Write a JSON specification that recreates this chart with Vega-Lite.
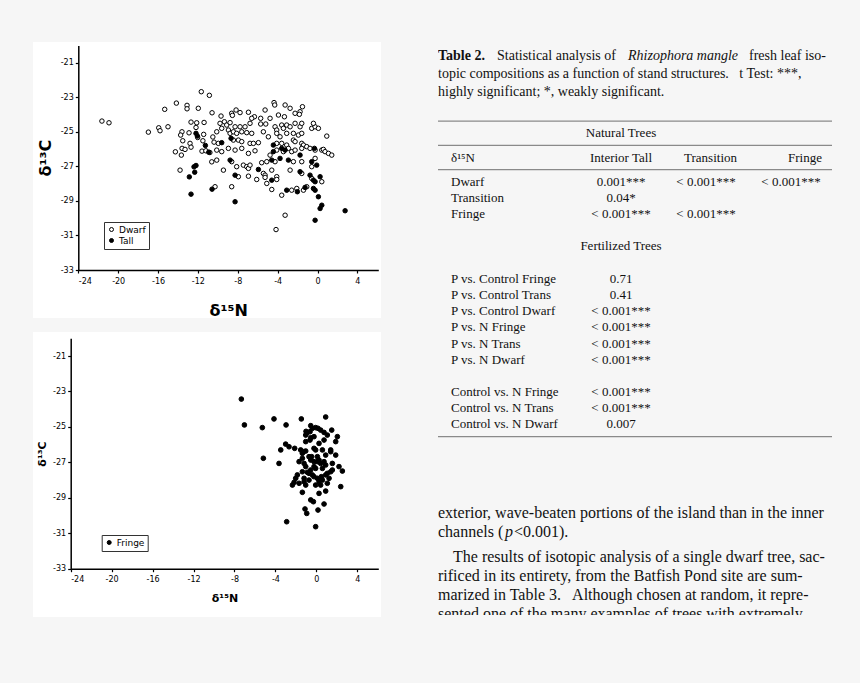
{
  "$schema": "https://vega.github.io/schema/vega-lite/v6.json",
  "background": "#f6f6f6",
  "padding": {"left": 33, "top": 42, "right": 29, "bottom": 66},
  "config": {
    "view": {"stroke": null},
    "axis": {"grid": false, "domainColor": "black", "domainWidth": 1.5, "tickColor": "black", "tickWidth": 1.2, "tickSize": 3, "labelFont": "DejaVu Sans", "labelFontSize": 8, "labelColor": "black", "titleFont": "DejaVu Sans", "titleFontWeight": "bold", "titleColor": "black"},
    "legend": {"orient": "none", "title": null, "padding": 3, "strokeColor": "#333", "fillColor": "white", "labelFont": "DejaVu Sans", "labelFontSize": 9, "labelColor": "black", "symbolType": "circle", "symbolSize": 16, "symbolStrokeColor": "black", "symbolStrokeWidth": 1, "rowPadding": 1, "labelOffset": 3}
  },
  "datasets": {
    "stand": [
      {"d15N": -21.63, "d13C": -24.38, "stand": "Dwarf"}, {"d15N": -20.92, "d13C": -24.48, "stand": "Dwarf"}, {"d15N": -16.97, "d13C": -25.02, "stand": "Dwarf"}, {"d15N": -15.93, "d13C": -24.77, "stand": "Dwarf"}, {"d15N": -15.8, "d13C": -24.94, "stand": "Dwarf"}, {"d15N": -15.0, "d13C": -24.71, "stand": "Dwarf"}, {"d15N": -15.33, "d13C": -23.7, "stand": "Dwarf"}, {"d15N": -14.16, "d13C": -23.34, "stand": "Dwarf"}, {"d15N": -13.09, "d13C": -23.47, "stand": "Dwarf"}, {"d15N": -13.09, "d13C": -23.67, "stand": "Dwarf"}, {"d15N": -11.96, "d13C": -23.64, "stand": "Dwarf"}, {"d15N": -11.66, "d13C": -22.68, "stand": "Dwarf"}, {"d15N": -10.85, "d13C": -22.89, "stand": "Dwarf"}, {"d15N": -10.58, "d13C": -23.9, "stand": "Dwarf"}, {"d15N": -12.69, "d13C": -24.44, "stand": "Dwarf"}, {"d15N": -12.12, "d13C": -24.48, "stand": "Dwarf"}, {"d15N": -11.38, "d13C": -24.46, "stand": "Dwarf"}, {"d15N": -12.19, "d13C": -24.75, "stand": "Dwarf"}, {"d15N": -13.6, "d13C": -25.0, "stand": "Dwarf"}, {"d15N": -13.73, "d13C": -25.19, "stand": "Dwarf"}, {"d15N": -12.89, "d13C": -25.06, "stand": "Dwarf"}, {"d15N": -12.02, "d13C": -25.33, "stand": "Dwarf"}, {"d15N": -11.42, "d13C": -25.15, "stand": "Dwarf"}, {"d15N": -13.52, "d13C": -25.52, "stand": "Dwarf"}, {"d15N": -12.79, "d13C": -25.67, "stand": "Dwarf"}, {"d15N": -12.69, "d13C": -25.89, "stand": "Dwarf"}, {"d15N": -13.59, "d13C": -25.96, "stand": "Dwarf"}, {"d15N": -14.26, "d13C": -26.16, "stand": "Dwarf"}, {"d15N": -13.29, "d13C": -26.02, "stand": "Dwarf"}, {"d15N": -13.66, "d13C": -26.35, "stand": "Dwarf"}, {"d15N": -11.59, "d13C": -26.12, "stand": "Dwarf"}, {"d15N": -10.38, "d13C": -25.6, "stand": "Dwarf"}, {"d15N": -10.61, "d13C": -26.74, "stand": "Dwarf"}, {"d15N": -13.79, "d13C": -27.22, "stand": "Dwarf"}, {"d15N": -11.5, "d13C": -25.52, "stand": "Dwarf"}, {"d15N": -11.2, "d13C": -26.1, "stand": "Dwarf"}, {"d15N": -10.8, "d13C": -26.2, "stand": "Dwarf"}, {"d15N": -10.5, "d13C": -25.3, "stand": "Dwarf"},
      {"d15N": -4.36, "d13C": -23.31, "stand": "Dwarf"}, {"d15N": -4.29, "d13C": -23.45, "stand": "Dwarf"}, {"d15N": -3.25, "d13C": -23.45, "stand": "Dwarf"}, {"d15N": -2.75, "d13C": -23.64, "stand": "Dwarf"}, {"d15N": -2.25, "d13C": -23.93, "stand": "Dwarf"}, {"d15N": -1.51, "d13C": -23.55, "stand": "Dwarf"}, {"d15N": -1.75, "d13C": -23.84, "stand": "Dwarf"}, {"d15N": -1.82, "d13C": -23.99, "stand": "Dwarf"},
      {"d15N": -9.68, "d13C": -24.09, "stand": "Dwarf"}, {"d15N": -8.61, "d13C": -23.93, "stand": "Dwarf"}, {"d15N": -8.54, "d13C": -24.05, "stand": "Dwarf"}, {"d15N": -8.17, "d13C": -23.74, "stand": "Dwarf"}, {"d15N": -7.77, "d13C": -23.89, "stand": "Dwarf"}, {"d15N": -6.93, "d13C": -23.87, "stand": "Dwarf"}, {"d15N": -6.33, "d13C": -24.13, "stand": "Dwarf"}, {"d15N": -5.7, "d13C": -24.22, "stand": "Dwarf"}, {"d15N": -5.26, "d13C": -23.74, "stand": "Dwarf"}, {"d15N": -4.76, "d13C": -24.22, "stand": "Dwarf"}, {"d15N": -3.92, "d13C": -24.03, "stand": "Dwarf"}, {"d15N": -3.32, "d13C": -24.13, "stand": "Dwarf"},
      {"d15N": -9.78, "d13C": -24.51, "stand": "Dwarf"}, {"d15N": -9.34, "d13C": -24.42, "stand": "Dwarf"}, {"d15N": -9.11, "d13C": -24.61, "stand": "Dwarf"}, {"d15N": -8.77, "d13C": -24.47, "stand": "Dwarf"}, {"d15N": -8.27, "d13C": -24.71, "stand": "Dwarf"}, {"d15N": -7.77, "d13C": -24.71, "stand": "Dwarf"}, {"d15N": -7.27, "d13C": -24.71, "stand": "Dwarf"}, {"d15N": -6.77, "d13C": -24.51, "stand": "Dwarf"}, {"d15N": -6.6, "d13C": -24.22, "stand": "Dwarf"}, {"d15N": -5.7, "d13C": -24.55, "stand": "Dwarf"}, {"d15N": -5.19, "d13C": -24.55, "stand": "Dwarf"}, {"d15N": -4.26, "d13C": -24.71, "stand": "Dwarf"}, {"d15N": -4.09, "d13C": -24.9, "stand": "Dwarf"}, {"d15N": -3.59, "d13C": -24.61, "stand": "Dwarf"}, {"d15N": -3.42, "d13C": -24.8, "stand": "Dwarf"}, {"d15N": -3.09, "d13C": -24.61, "stand": "Dwarf"}, {"d15N": -2.75, "d13C": -24.71, "stand": "Dwarf"}, {"d15N": -2.25, "d13C": -24.51, "stand": "Dwarf"}, {"d15N": -1.75, "d13C": -24.71, "stand": "Dwarf"}, {"d15N": -1.58, "d13C": -24.51, "stand": "Dwarf"}, {"d15N": -0.58, "d13C": -24.8, "stand": "Dwarf"}, {"d15N": -0.24, "d13C": -24.71, "stand": "Dwarf"}, {"d15N": 0.09, "d13C": -24.8, "stand": "Dwarf"}, {"d15N": -0.41, "d13C": -24.51, "stand": "Dwarf"},
      {"d15N": -10.11, "d13C": -25.0, "stand": "Dwarf"}, {"d15N": -9.61, "d13C": -24.8, "stand": "Dwarf"}, {"d15N": -8.94, "d13C": -24.9, "stand": "Dwarf"}, {"d15N": -8.77, "d13C": -25.09, "stand": "Dwarf"}, {"d15N": -8.44, "d13C": -25.0, "stand": "Dwarf"}, {"d15N": -8.11, "d13C": -25.09, "stand": "Dwarf"}, {"d15N": -7.6, "d13C": -25.0, "stand": "Dwarf"}, {"d15N": -7.1, "d13C": -25.05, "stand": "Dwarf"}, {"d15N": -6.6, "d13C": -25.09, "stand": "Dwarf"}, {"d15N": -5.43, "d13C": -25.0, "stand": "Dwarf"}, {"d15N": -4.93, "d13C": -25.29, "stand": "Dwarf"}, {"d15N": -4.09, "d13C": -25.09, "stand": "Dwarf"}, {"d15N": -3.76, "d13C": -25.29, "stand": "Dwarf"}, {"d15N": -3.09, "d13C": -25.09, "stand": "Dwarf"}, {"d15N": -2.42, "d13C": -25.09, "stand": "Dwarf"}, {"d15N": -1.92, "d13C": -25.19, "stand": "Dwarf"}, {"d15N": -1.58, "d13C": -25.09, "stand": "Dwarf"}, {"d15N": 0.93, "d13C": -25.25, "stand": "Dwarf"},
      {"d15N": -9.95, "d13C": -25.67, "stand": "Dwarf"}, {"d15N": -8.44, "d13C": -25.48, "stand": "Dwarf"}, {"d15N": -7.94, "d13C": -25.48, "stand": "Dwarf"}, {"d15N": -7.6, "d13C": -25.57, "stand": "Dwarf"}, {"d15N": -6.77, "d13C": -25.67, "stand": "Dwarf"}, {"d15N": -6.43, "d13C": -25.67, "stand": "Dwarf"}, {"d15N": -5.93, "d13C": -25.63, "stand": "Dwarf"}, {"d15N": -4.09, "d13C": -25.67, "stand": "Dwarf"}, {"d15N": -3.59, "d13C": -25.67, "stand": "Dwarf"}, {"d15N": -3.09, "d13C": -25.77, "stand": "Dwarf"}, {"d15N": -2.42, "d13C": -25.48, "stand": "Dwarf"}, {"d15N": -2.25, "d13C": -25.57, "stand": "Dwarf"}, {"d15N": -1.58, "d13C": -25.67, "stand": "Dwarf"}, {"d15N": -1.41, "d13C": -25.77, "stand": "Dwarf"}, {"d15N": -1.08, "d13C": -25.86, "stand": "Dwarf"},
      {"d15N": -10.11, "d13C": -26.06, "stand": "Dwarf"}, {"d15N": -9.61, "d13C": -26.15, "stand": "Dwarf"}, {"d15N": -8.94, "d13C": -25.96, "stand": "Dwarf"}, {"d15N": -8.27, "d13C": -26.06, "stand": "Dwarf"}, {"d15N": -7.6, "d13C": -25.96, "stand": "Dwarf"}, {"d15N": -6.93, "d13C": -26.25, "stand": "Dwarf"}, {"d15N": -6.27, "d13C": -26.1, "stand": "Dwarf"}, {"d15N": -4.76, "d13C": -26.35, "stand": "Dwarf"}, {"d15N": -4.09, "d13C": -26.06, "stand": "Dwarf"}, {"d15N": -3.42, "d13C": -26.15, "stand": "Dwarf"}, {"d15N": -2.92, "d13C": -25.96, "stand": "Dwarf"}, {"d15N": -2.59, "d13C": -26.15, "stand": "Dwarf"}, {"d15N": -2.25, "d13C": -26.06, "stand": "Dwarf"}, {"d15N": -1.58, "d13C": -25.96, "stand": "Dwarf"}, {"d15N": -0.75, "d13C": -25.96, "stand": "Dwarf"}, {"d15N": -0.24, "d13C": -26.06, "stand": "Dwarf"}, {"d15N": 0.43, "d13C": -26.06, "stand": "Dwarf"}, {"d15N": 0.59, "d13C": -26.02, "stand": "Dwarf"}, {"d15N": 0.76, "d13C": -26.15, "stand": "Dwarf"}, {"d15N": 1.1, "d13C": -26.25, "stand": "Dwarf"}, {"d15N": 1.43, "d13C": -26.35, "stand": "Dwarf"},
      {"d15N": -10.11, "d13C": -26.64, "stand": "Dwarf"}, {"d15N": -8.61, "d13C": -26.73, "stand": "Dwarf"}, {"d15N": -8.11, "d13C": -27.02, "stand": "Dwarf"}, {"d15N": -7.44, "d13C": -26.93, "stand": "Dwarf"}, {"d15N": -7.1, "d13C": -27.02, "stand": "Dwarf"}, {"d15N": -6.93, "d13C": -27.12, "stand": "Dwarf"}, {"d15N": -6.77, "d13C": -26.93, "stand": "Dwarf"}, {"d15N": -5.6, "d13C": -26.79, "stand": "Dwarf"}, {"d15N": -5.09, "d13C": -26.73, "stand": "Dwarf"}, {"d15N": -4.26, "d13C": -26.73, "stand": "Dwarf"}, {"d15N": -2.42, "d13C": -26.73, "stand": "Dwarf"}, {"d15N": -1.58, "d13C": -26.73, "stand": "Dwarf"}, {"d15N": -0.24, "d13C": -26.54, "stand": "Dwarf"}, {"d15N": -0.58, "d13C": -27.02, "stand": "Dwarf"},
      {"d15N": -9.44, "d13C": -27.22, "stand": "Dwarf"}, {"d15N": -7.94, "d13C": -27.6, "stand": "Dwarf"}, {"d15N": -6.93, "d13C": -27.57, "stand": "Dwarf"}, {"d15N": -5.43, "d13C": -27.41, "stand": "Dwarf"}, {"d15N": -5.26, "d13C": -27.51, "stand": "Dwarf"}, {"d15N": -4.59, "d13C": -27.22, "stand": "Dwarf"}, {"d15N": -4.09, "d13C": -27.6, "stand": "Dwarf"}, {"d15N": -2.75, "d13C": -27.22, "stand": "Dwarf"}, {"d15N": -1.58, "d13C": -27.41, "stand": "Dwarf"},
      {"d15N": -6.1, "d13C": -27.76, "stand": "Dwarf"}, {"d15N": -5.26, "d13C": -27.64, "stand": "Dwarf"}, {"d15N": -5.09, "d13C": -27.99, "stand": "Dwarf"}, {"d15N": -4.09, "d13C": -27.76, "stand": "Dwarf"}, {"d15N": -0.58, "d13C": -27.7, "stand": "Dwarf"}, {"d15N": 0.43, "d13C": -27.89, "stand": "Dwarf"},
      {"d15N": -10.28, "d13C": -28.18, "stand": "Dwarf"}, {"d15N": -8.61, "d13C": -28.18, "stand": "Dwarf"}, {"d15N": -4.59, "d13C": -28.34, "stand": "Dwarf"}, {"d15N": -3.59, "d13C": -28.67, "stand": "Dwarf"}, {"d15N": -2.59, "d13C": -28.38, "stand": "Dwarf"}, {"d15N": -2.08, "d13C": -28.28, "stand": "Dwarf"}, {"d15N": -1.41, "d13C": -28.38, "stand": "Dwarf"}, {"d15N": -1.08, "d13C": -28.18, "stand": "Dwarf"}, {"d15N": -3.25, "d13C": -29.83, "stand": "Dwarf"}, {"d15N": -4.16, "d13C": -30.66, "stand": "Dwarf"},
      {"d15N": -12.19, "d13C": -25.09, "stand": "Tall"}, {"d15N": -12.05, "d13C": -25.25, "stand": "Tall"}, {"d15N": -11.25, "d13C": -25.79, "stand": "Tall"}, {"d15N": -10.91, "d13C": -26.18, "stand": "Tall"}, {"d15N": -12.39, "d13C": -27.03, "stand": "Tall"}, {"d15N": -12.19, "d13C": -26.95, "stand": "Tall"}, {"d15N": -12.32, "d13C": -27.34, "stand": "Tall"}, {"d15N": -12.86, "d13C": -27.61, "stand": "Tall"}, {"d15N": -12.69, "d13C": -28.61, "stand": "Tall"}, {"d15N": -10.58, "d13C": -28.32, "stand": "Tall"},
      {"d15N": -9.61, "d13C": -25.63, "stand": "Tall"}, {"d15N": -8.67, "d13C": -25.38, "stand": "Tall"}, {"d15N": -4.43, "d13C": -25.77, "stand": "Tall"}, {"d15N": -4.43, "d13C": -26.15, "stand": "Tall"}, {"d15N": -3.59, "d13C": -25.96, "stand": "Tall"}, {"d15N": -3.25, "d13C": -26.06, "stand": "Tall"}, {"d15N": -1.75, "d13C": -26.35, "stand": "Tall"}, {"d15N": -0.31, "d13C": -25.96, "stand": "Tall"}, {"d15N": -8.77, "d13C": -26.64, "stand": "Tall"}, {"d15N": -4.59, "d13C": -26.64, "stand": "Tall"}, {"d15N": -3.76, "d13C": -26.54, "stand": "Tall"}, {"d15N": -2.92, "d13C": -26.64, "stand": "Tall"}, {"d15N": -0.58, "d13C": -26.73, "stand": "Tall"}, {"d15N": -0.08, "d13C": -26.93, "stand": "Tall"}, {"d15N": -8.27, "d13C": -27.51, "stand": "Tall"}, {"d15N": -5.93, "d13C": -27.18, "stand": "Tall"}, {"d15N": -1.75, "d13C": -27.31, "stand": "Tall"}, {"d15N": -0.75, "d13C": -27.51, "stand": "Tall"}, {"d15N": 0.26, "d13C": -27.6, "stand": "Tall"}, {"d15N": -4.59, "d13C": -27.8, "stand": "Tall"}, {"d15N": -0.41, "d13C": -27.8, "stand": "Tall"}, {"d15N": -0.24, "d13C": -27.89, "stand": "Tall"}, {"d15N": -3.09, "d13C": -28.38, "stand": "Tall"}, {"d15N": -2.02, "d13C": -28.47, "stand": "Tall"}, {"d15N": -1.25, "d13C": -28.22, "stand": "Tall"}, {"d15N": -0.41, "d13C": -28.28, "stand": "Tall"}, {"d15N": -0.24, "d13C": -28.38, "stand": "Tall"}, {"d15N": -8.27, "d13C": -29.05, "stand": "Tall"}, {"d15N": 0.09, "d13C": -28.76, "stand": "Tall"}, {"d15N": 0.43, "d13C": -29.25, "stand": "Tall"}, {"d15N": 0.26, "d13C": -29.44, "stand": "Tall"}, {"d15N": 2.77, "d13C": -29.57, "stand": "Tall"}, {"d15N": -0.24, "d13C": -30.12, "stand": "Tall"}
    ],
    "fringe": [
      {"d15N": -4.14, "d13C": -24.55, "stand": "Fringe"}, {"d15N": -1.47, "d13C": -24.55, "stand": "Fringe"}, {"d15N": 0.91, "d13C": -24.44, "stand": "Fringe"}, {"d15N": -5.28, "d13C": -25.04, "stand": "Fringe"}, {"d15N": -2.96, "d13C": -24.89, "stand": "Fringe"}, {"d15N": -0.55, "d13C": -24.93, "stand": "Fringe"}, {"d15N": -0.39, "d13C": -25.08, "stand": "Fringe"}, {"d15N": -0.07, "d13C": -25.04, "stand": "Fringe"}, {"d15N": 0.16, "d13C": -25.08, "stand": "Fringe"}, {"d15N": -0.62, "d13C": -25.27, "stand": "Fringe"}, {"d15N": -0.94, "d13C": -25.36, "stand": "Fringe"}, {"d15N": -1.04, "d13C": -25.46, "stand": "Fringe"}, {"d15N": 0.75, "d13C": -25.31, "stand": "Fringe"}, {"d15N": 1.07, "d13C": -25.46, "stand": "Fringe"}, {"d15N": 1.5, "d13C": -25.18, "stand": "Fringe"}, {"d15N": 2.05, "d13C": -25.55, "stand": "Fringe"}, {"d15N": 1.89, "d13C": -25.83, "stand": "Fringe"}, {"d15N": -0.55, "d13C": -25.61, "stand": "Fringe"}, {"d15N": -0.23, "d13C": -25.55, "stand": "Fringe"}, {"d15N": 0.26, "d13C": -25.93, "stand": "Fringe"}, {"d15N": -1.04, "d13C": -25.83, "stand": "Fringe"}, {"d15N": -3.0, "d13C": -25.97, "stand": "Fringe"}, {"d15N": -2.67, "d13C": -26.12, "stand": "Fringe"}, {"d15N": -3.48, "d13C": -26.3, "stand": "Fringe"}, {"d15N": -2.12, "d13C": -26.21, "stand": "Fringe"}, {"d15N": -5.18, "d13C": -26.77, "stand": "Fringe"}, {"d15N": -3.65, "d13C": -27.06, "stand": "Fringe"}, {"d15N": -1.53, "d13C": -26.3, "stand": "Fringe"}, {"d15N": -1.27, "d13C": -26.4, "stand": "Fringe"}, {"d15N": -1.04, "d13C": -26.36, "stand": "Fringe"}, {"d15N": -0.23, "d13C": -26.21, "stand": "Fringe"}, {"d15N": -0.07, "d13C": -26.3, "stand": "Fringe"}, {"d15N": 0.59, "d13C": -26.3, "stand": "Fringe"}, {"d15N": 0.91, "d13C": -26.59, "stand": "Fringe"}, {"d15N": 1.4, "d13C": -26.4, "stand": "Fringe"}, {"d15N": 1.89, "d13C": -26.59, "stand": "Fringe"}, {"d15N": -1.69, "d13C": -26.96, "stand": "Fringe"}, {"d15N": -1.37, "d13C": -26.77, "stand": "Fringe"}, {"d15N": -1.2, "d13C": -27.06, "stand": "Fringe"}, {"d15N": -1.04, "d13C": -27.24, "stand": "Fringe"}, {"d15N": -0.72, "d13C": -26.68, "stand": "Fringe"}, {"d15N": -0.55, "d13C": -26.87, "stand": "Fringe"}, {"d15N": -0.23, "d13C": -26.96, "stand": "Fringe"}, {"d15N": 0.1, "d13C": -26.68, "stand": "Fringe"}, {"d15N": 0.26, "d13C": -26.87, "stand": "Fringe"}, {"d15N": 0.42, "d13C": -27.06, "stand": "Fringe"}, {"d15N": 0.75, "d13C": -26.96, "stand": "Fringe"}, {"d15N": 0.91, "d13C": -27.15, "stand": "Fringe"}, {"d15N": 0.59, "d13C": -27.34, "stand": "Fringe"}, {"d15N": -0.07, "d13C": -27.34, "stand": "Fringe"}, {"d15N": -0.55, "d13C": -27.43, "stand": "Fringe"}, {"d15N": -0.88, "d13C": -27.56, "stand": "Fringe"}, {"d15N": -1.37, "d13C": -27.53, "stand": "Fringe"}, {"d15N": -1.86, "d13C": -27.71, "stand": "Fringe"}, {"d15N": -2.02, "d13C": -27.9, "stand": "Fringe"}, {"d15N": -2.18, "d13C": -28.13, "stand": "Fringe"}, {"d15N": -2.34, "d13C": -28.28, "stand": "Fringe"}, {"d15N": -1.69, "d13C": -28.18, "stand": "Fringe"}, {"d15N": -1.2, "d13C": -28.09, "stand": "Fringe"}, {"d15N": -1.04, "d13C": -28.28, "stand": "Fringe"}, {"d15N": -0.72, "d13C": -28.0, "stand": "Fringe"}, {"d15N": -0.23, "d13C": -27.81, "stand": "Fringe"}, {"d15N": 0.1, "d13C": -27.9, "stand": "Fringe"}, {"d15N": 0.26, "d13C": -28.09, "stand": "Fringe"}, {"d15N": 0.59, "d13C": -28.0, "stand": "Fringe"}, {"d15N": 0.91, "d13C": -27.71, "stand": "Fringe"}, {"d15N": 1.24, "d13C": -27.9, "stand": "Fringe"}, {"d15N": 1.4, "d13C": -27.53, "stand": "Fringe"}, {"d15N": 1.56, "d13C": -27.43, "stand": "Fringe"}, {"d15N": 2.21, "d13C": -27.24, "stand": "Fringe"}, {"d15N": 2.54, "d13C": -27.49, "stand": "Fringe"}, {"d15N": 1.07, "d13C": -28.18, "stand": "Fringe"}, {"d15N": 0.42, "d13C": -28.28, "stand": "Fringe"}, {"d15N": -0.07, "d13C": -28.28, "stand": "Fringe"}, {"d15N": -0.39, "d13C": -27.71, "stand": "Fringe"}, {"d15N": 2.38, "d13C": -28.37, "stand": "Fringe"}, {"d15N": -1.37, "d13C": -28.69, "stand": "Fringe"}, {"d15N": 0.26, "d13C": -28.75, "stand": "Fringe"}, {"d15N": 0.91, "d13C": -28.62, "stand": "Fringe"}, {"d15N": -0.55, "d13C": -29.12, "stand": "Fringe"}, {"d15N": -0.29, "d13C": -29.22, "stand": "Fringe"}, {"d15N": 0.75, "d13C": -29.35, "stand": "Fringe"}, {"d15N": -1.11, "d13C": -29.63, "stand": "Fringe"}, {"d15N": -0.94, "d13C": -29.88, "stand": "Fringe"}, {"d15N": 0.16, "d13C": -29.69, "stand": "Fringe"}, {"d15N": -2.9, "d13C": -30.35, "stand": "Fringe"}, {"d15N": -0.07, "d13C": -30.63, "stand": "Fringe"}, {"d15N": -7.33, "d13C": -23.43, "stand": "Fringe"}, {"d15N": -7.03, "d13C": -24.89, "stand": "Fringe"},
      {"d15N": -1.01, "d13C": -25.25, "stand": "Fringe"}, {"d15N": -0.62, "d13C": -25.74, "stand": "Fringe"}, {"d15N": 0.42, "d13C": -25.18, "stand": "Fringe"}, {"d15N": 0.75, "d13C": -25.74, "stand": "Fringe"}, {"d15N": -0.46, "d13C": -26.68, "stand": "Fringe"}, {"d15N": 0.1, "d13C": -26.96, "stand": "Fringe"}, {"d15N": -0.23, "d13C": -27.24, "stand": "Fringe"}, {"d15N": -0.72, "d13C": -27.62, "stand": "Fringe"}, {"d15N": 0.49, "d13C": -27.81, "stand": "Fringe"}, {"d15N": -1.2, "d13C": -27.9, "stand": "Fringe"}, {"d15N": 1.07, "d13C": -27.62, "stand": "Fringe"}, {"d15N": 1.56, "d13C": -27.06, "stand": "Fringe"}, {"d15N": -1.37, "d13C": -26.49, "stand": "Fringe"}, {"d15N": 1.4, "d13C": -26.3, "stand": "Fringe"}
    ],
    "caption": [
      {"line": 1, "seg": "bold", "col": "text", "text": "Table 2."},
      {"line": 1, "seg": "a", "col": "text", "text": "Statistical analysis of"},
      {"line": 1, "seg": "ital", "col": "text", "text": "Rhizophora mangle"},
      {"line": 1, "seg": "b", "col": "text", "text": "fresh leaf iso-"},
      {"line": 2, "seg": "plain", "col": "text", "text": "topic compositions as a function of stand structures.\u2002 t Test: ***,"},
      {"line": 3, "seg": "plain", "col": "text", "text": "highly significant; *, weakly significant."}
    ],
    "rules": [{"row": -1.5}, {"row": 1.5}, {"row": 4.5}, {"row": 37.5}],
    "table": [
      {"row": 0, "col": "c1", "kind": "section", "text": "Natural Trees"},
      {"row": 3, "col": "label", "kind": "head", "text": "δ¹⁵N"},
      {"row": 3, "col": "c1", "kind": "head", "text": "Interior Tall"},
      {"row": 3, "col": "c2", "kind": "head", "text": "Transition"},
      {"row": 3, "col": "c3", "kind": "head", "text": "Fringe"},
      {"row": 6, "col": "label", "kind": "cell", "text": "Dwarf"},
      {"row": 6, "col": "c1", "kind": "cell", "text": "0.001***"},
      {"row": 6, "col": "c2", "kind": "cell", "text": "< 0.001***"},
      {"row": 6, "col": "c3", "kind": "cell", "text": "< 0.001***"},
      {"row": 8, "col": "label", "kind": "cell", "text": "Transition"},
      {"row": 8, "col": "c1", "kind": "cell", "text": "0.04*"},
      {"row": 10, "col": "label", "kind": "cell", "text": "Fringe"},
      {"row": 10, "col": "c1", "kind": "cell", "text": "< 0.001***"},
      {"row": 10, "col": "c2", "kind": "cell", "text": "< 0.001***"},
      {"row": 14, "col": "c1", "kind": "section", "text": "Fertilized Trees"},
      {"row": 18, "col": "label", "kind": "cell", "text": "P vs. Control Fringe"},
      {"row": 18, "col": "c1", "kind": "cell", "text": "0.71"},
      {"row": 20, "col": "label", "kind": "cell", "text": "P vs. Control Trans"},
      {"row": 20, "col": "c1", "kind": "cell", "text": "0.41"},
      {"row": 22, "col": "label", "kind": "cell", "text": "P vs. Control Dwarf"},
      {"row": 22, "col": "c1", "kind": "cell", "text": "< 0.001***"},
      {"row": 24, "col": "label", "kind": "cell", "text": "P vs. N Fringe"},
      {"row": 24, "col": "c1", "kind": "cell", "text": "< 0.001***"},
      {"row": 26, "col": "label", "kind": "cell", "text": "P vs. N Trans"},
      {"row": 26, "col": "c1", "kind": "cell", "text": "< 0.001***"},
      {"row": 28, "col": "label", "kind": "cell", "text": "P vs. N Dwarf"},
      {"row": 28, "col": "c1", "kind": "cell", "text": "< 0.001***"},
      {"row": 32, "col": "label", "kind": "cell", "text": "Control vs. N Fringe"},
      {"row": 32, "col": "c1", "kind": "cell", "text": "< 0.001***"},
      {"row": 34, "col": "label", "kind": "cell", "text": "Control vs. N Trans"},
      {"row": 34, "col": "c1", "kind": "cell", "text": "< 0.001***"},
      {"row": 36, "col": "label", "kind": "cell", "text": "Control vs. N Dwarf"},
      {"row": 36, "col": "c1", "kind": "cell", "text": "0.007"}
    ],
    "body": [
      {"line": 1, "para": 1, "seg": "plain", "col": "text", "text": "exterior, wave-beaten portions of the island than in the inner"},
      {"line": 2, "para": 1, "seg": "plain", "col": "text", "text": "channels ("},
      {"line": 2, "para": 1, "seg": "ital", "col": "text", "text": "p"},
      {"line": 2, "para": 1, "seg": "tail", "col": "text", "text": "<0.001)."},
      {"line": 3, "para": 2, "seg": "indent", "col": "text", "text": "The results of isotopic analysis of a single dwarf tree, sac-"},
      {"line": 4, "para": 2, "seg": "plain", "col": "text", "text": "rificed in its entirety, from the Batfish Pond site are sum-"},
      {"line": 5, "para": 2, "seg": "plain", "col": "text", "text": "marized in Table 3.\u2002 Although chosen at random, it repre-"},
      {"line": 6, "para": 2, "seg": "plain", "col": "text", "text": "sented one of the many examples of trees with extremely"}
    ]
  },
  "spacing": 56,
  "hconcat": [
    {
      "spacing": 14,
      "resolve": {"scale": {"fill": "independent"}, "legend": {"fill": "independent"}},
      "vconcat": [
        {
          "width": 348, "height": 276,
          "view": {"fill": "white", "stroke": null},
          "data": {"name": "stand"},
          "mark": {"type": "circle", "size": 20, "stroke": "black", "strokeWidth": 1, "opacity": 1},
          "encoding": {
            "x": {"field": "d15N", "type": "quantitative",
              "scale": {"domain": [-24, 6.1], "range": [45.3, 345.3], "nice": false, "zero": false},
              "axis": {"title": "δ¹⁵N", "values": [-24, -20, -16, -12, -8, -4, 0, 4], "offset": -48, "labelPadding": 4, "titleFontSize": 16, "titlePadding": 17, "labelExpr": "datum.value < 0 ? '-' + (-datum.value) : '' + datum.value"}},
            "y": {"field": "d13C", "type": "quantitative",
              "scale": {"domain": [-33, -20], "range": [228, 3.4], "nice": false, "zero": false},
              "axis": {"title": "δ¹³C", "values": [-33, -31, -29, -27, -25, -23, -21], "offset": -45.3, "labelPadding": 2, "titleFontSize": 16, "titlePadding": 7, "labelExpr": "datum.value < 0 ? '-' + (-datum.value) : '' + datum.value"}},
            "fill": {"field": "stand", "type": "nominal",
              "scale": {"domain": ["Dwarf", "Tall"], "range": ["white", "black"]},
              "legend": {"legendX": 71, "legendY": 180}}
          }
        },
        {
          "width": 348, "height": 285,
          "view": {"fill": "white", "stroke": null},
          "data": {"name": "fringe"},
          "mark": {"type": "circle", "size": 22, "stroke": "black", "strokeWidth": 1, "opacity": 1},
          "encoding": {
            "x": {"field": "d15N", "type": "quantitative",
              "scale": {"domain": [-24, 6.05], "range": [37.7, 345.3], "nice": false, "zero": false},
              "axis": {"title": "δ¹⁵N", "values": [-24, -20, -16, -12, -8, -4, 0, 4], "offset": -48.3, "labelPadding": 4, "titleFontSize": 11, "titlePadding": 9, "labelExpr": "datum.value < 0 ? '-' + (-datum.value) : '' + datum.value"}},
            "y": {"field": "d13C", "type": "quantitative",
              "scale": {"domain": [-33, -20], "range": [236.7, 6.3], "nice": false, "zero": false},
              "axis": {"title": "δ¹³C", "values": [-33, -31, -29, -27, -25, -23, -21], "offset": -37.7, "labelPadding": 2, "titleFontSize": 11, "titlePadding": 5, "labelExpr": "datum.value < 0 ? '-' + (-datum.value) : '' + datum.value"}},
            "fill": {"field": "stand", "type": "nominal",
              "scale": {"domain": ["Fringe"], "range": ["black"]},
              "legend": {"legendX": 68.7, "legendY": 203}}
          }
        }
      ]
    },
    {
      "spacing": 0,
      "bounds": "flush",
      "vconcat": [
        {
          "width": 394, "height": 66.9,
          "data": {"name": "caption"},
          "encoding": {
            "y": {"field": "line", "type": "ordinal", "axis": null, "scale": {"type": "point", "padding": 0.874, "align": 0.46}},
            "x": {"field": "col", "type": "nominal", "axis": null, "scale": {"type": "point", "padding": 0, "align": 0}},
            "text": {"field": "text"}
          },
          "layer": [
            {"transform": [{"filter": "datum.seg == 'bold'"}], "mark": {"type": "text", "align": "left", "baseline": "middle", "font": "Liberation Serif", "fontSize": 14, "fontWeight": "bold", "color": "#111", "clip": true}},
            {"transform": [{"filter": "datum.seg == 'a'"}], "mark": {"type": "text", "align": "left", "baseline": "middle", "font": "Liberation Serif", "fontSize": 14, "color": "#111", "dx": 59, "clip": true}},
            {"transform": [{"filter": "datum.seg == 'ital'"}], "mark": {"type": "text", "align": "left", "baseline": "middle", "font": "Liberation Serif", "fontSize": 14, "fontStyle": "italic", "color": "#111", "dx": 190, "clip": true}},
            {"transform": [{"filter": "datum.seg == 'b'"}], "mark": {"type": "text", "align": "left", "baseline": "middle", "font": "Liberation Serif", "fontSize": 14, "color": "#111", "dx": 311, "clip": true}},
            {"transform": [{"filter": "datum.seg == 'plain'"}], "mark": {"type": "text", "align": "left", "baseline": "middle", "font": "Liberation Serif", "fontSize": 14, "color": "#111", "clip": true}}
          ]
        },
        {
          "width": 394, "height": 388.2,
          "layer": [
            {
              "data": {"name": "rules"},
              "mark": {"type": "rule", "color": "#8a8a8a", "strokeWidth": 1.2},
              "encoding": {"y": {"field": "row", "type": "quantitative", "axis": null, "scale": {"domain": [-3, 45], "reverse": true, "nice": false, "zero": false}}}
            },
            {
              "data": {"name": "table"},
              "transform": [{"filter": "datum.col == 'label'"}],
              "mark": {"type": "text", "align": "left", "baseline": "middle", "font": "Liberation Serif", "fontSize": 13, "color": "#111", "clip": true},
              "encoding": {
                "y": {"field": "row", "type": "quantitative", "axis": null, "scale": {"domain": [-3, 45], "reverse": true, "nice": false, "zero": false}},
                "x": {"field": "col", "type": "nominal", "axis": null, "scale": {"type": "point", "domain": ["label", "gap", "c1", "c2", "c3"], "range": [13, 353], "padding": 0}},
                "text": {"field": "text"}
              }
            },
            {
              "data": {"name": "table"},
              "transform": [{"filter": "datum.col != 'label' && datum.kind != 'head'"}],
              "mark": {"type": "text", "align": "center", "baseline": "middle", "font": "Liberation Serif", "fontSize": 13, "color": "#111", "clip": true},
              "encoding": {
                "y": {"field": "row", "type": "quantitative", "axis": null, "scale": {"domain": [-3, 45], "reverse": true, "nice": false, "zero": false}},
                "x": {"field": "col", "type": "nominal", "axis": null, "scale": {"type": "point", "domain": ["label", "gap", "c1", "c2", "c3"], "range": [13, 353], "padding": 0}},
                "text": {"field": "text"}
              }
            },
            {
              "data": {"name": "table"},
              "transform": [{"filter": "datum.col != 'label' && datum.kind == 'head'"}],
              "mark": {"type": "text", "align": "right", "baseline": "middle", "font": "Liberation Serif", "fontSize": 13, "color": "#111", "dx": 31, "clip": true},
              "encoding": {
                "y": {"field": "row", "type": "quantitative", "axis": null, "scale": {"domain": [-3, 45], "reverse": true, "nice": false, "zero": false}},
                "x": {"field": "col", "type": "nominal", "axis": null, "scale": {"type": "point", "domain": ["label", "gap", "c1", "c2", "c3"], "range": [13, 353], "padding": 0}},
                "text": {"field": "text"}
              }
            }
          ]
        },
        {
          "width": 394, "height": 116.9,
          "data": {"name": "body"},
          "encoding": {
            "y": {"field": "line", "type": "ordinal", "axis": null, "scale": {"type": "point", "padding": 0.576, "align": 0.68}},
            "x": {"field": "col", "type": "nominal", "axis": null, "scale": {"type": "point", "padding": 0, "align": 0}},
            "text": {"field": "text"}
          },
          "layer": [
            {"transform": [{"filter": "datum.para == 1 && datum.seg == 'plain'"}], "mark": {"type": "text", "align": "left", "baseline": "middle", "font": "Liberation Serif", "fontSize": 16, "color": "#111", "clip": true}},
            {"transform": [{"filter": "datum.seg == 'ital'"}], "mark": {"type": "text", "align": "left", "baseline": "middle", "font": "Liberation Serif", "fontSize": 16, "fontStyle": "italic", "color": "#111", "dx": 67, "clip": true}},
            {"transform": [{"filter": "datum.seg == 'tail'"}], "mark": {"type": "text", "align": "left", "baseline": "middle", "font": "Liberation Serif", "fontSize": 16, "color": "#111", "dx": 76, "clip": true}},
            {"transform": [{"filter": "datum.seg == 'indent'"}], "mark": {"type": "text", "align": "left", "baseline": "middle", "font": "Liberation Serif", "fontSize": 16, "color": "#111", "dx": 15, "dy": 6, "clip": true}},
            {"transform": [{"filter": "datum.para == 2 && datum.seg == 'plain'"}], "mark": {"type": "text", "align": "left", "baseline": "middle", "font": "Liberation Serif", "fontSize": 16, "color": "#111", "dy": 6, "clip": true}}
          ]
        }
      ]
    }
  ]
}
